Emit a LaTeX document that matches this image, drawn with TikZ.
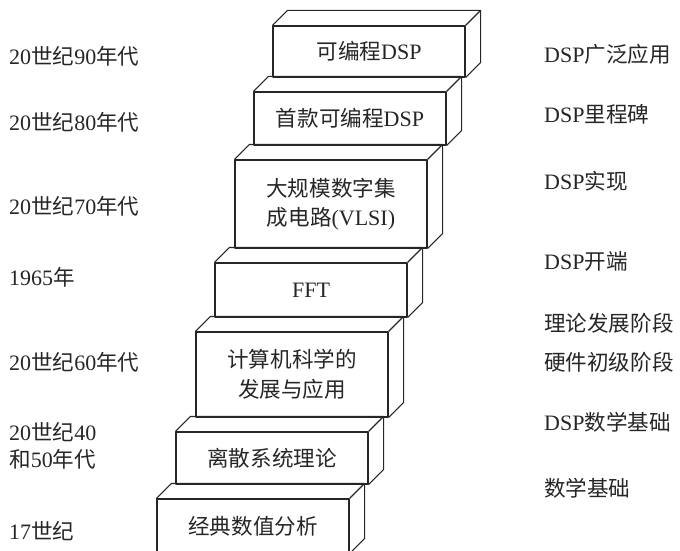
\documentclass[tikz,border=0pt]{standalone}
\usepackage{fontspec}
\usetikzlibrary{calc}
\setmainfont{Liberation Serif}
\newfontfamily\cjk{Noto Sans CJK SC}[Scale=0.98]
\begin{document}
\begin{tikzpicture}[x=1pt,y=-1pt,
  ink/.style={black!85, line width=1.1pt, line join=round},
  txt/.style={text=black!85, font=\fontsize{22}{30}\selectfont, inner sep=0pt},
  lab/.style={txt, anchor=west, align=left},
  front/.style={ink, draw, fill=white, minimum width=192pt, inner sep=0pt, align=center, text=black!85, font=\fontsize{22}{29.5}\selectfont}]
\useasboundingbox (0,0) rectangle (680,551);
\clip (0,0) rectangle (680,551);
\def\dd{15}
% boxes: front faces as nodes
\node[front, minimum height=51pt] (b1) at (369,51.5) {{\cjk 可编程}DSP};
\node[front, minimum height=53pt] (b2) at (350,118.5) {{\cjk 首款可编程}DSP};
\node[front, minimum height=88pt] (b3) at (331,204) {{\cjk 大规模数字集}\\{\cjk 成电路}(VLSI)};
\node[front, minimum height=54pt] (b4) at (311,290) {FFT};
\node[front, minimum height=85pt] (b5) at (292,374.5) {{\cjk 计算机科学的}\\{\cjk 发展与应用}};
\node[front, minimum height=52pt] (b6) at (272,458) {{\cjk 离散系统理论}};
\node[front, minimum height=54pt] (b7) at (253,526) {{\cjk 经典数值分析}};
% top and right faces
\foreach \b in {b1,b2,b3,b4,b5,b6,b7}{
  \draw[ink] (\b.north west) -- ++(\dd,-\dd) -- ($(\b.north east)+(\dd,-\dd)$) -- (\b.north east);
  \draw[ink] ($(\b.north east)+(\dd,-\dd)$) -- ($(\b.south east)+(\dd,-\dd)$) -- (\b.south east);
}
% left labels
\node[lab] (l1) at (9,56) {20{\cjk 世纪}90{\cjk 年代}};
\node[lab] (l2) at (9,122) {20{\cjk 世纪}80{\cjk 年代}};
\node[lab] (l3) at (9,206) {20{\cjk 世纪}70{\cjk 年代}};
\node[lab] (l4) at (9,277) {1965{\cjk 年}};
\node[lab] (l5) at (9,362.5) {20{\cjk 世纪}60{\cjk 年代}};
\node[lab, font=\fontsize{22}{27}\selectfont] (l6) at (9,445.5) {20{\cjk 世纪}40\\{\cjk 和}50{\cjk 年代}};
\node[lab] (l7) at (9,531) {17{\cjk 世纪}};
% right labels
\node[lab] (r1) at (544,54) {DSP{\cjk 广泛应用}};
\node[lab] (r2) at (544,114) {DSP{\cjk 里程碑}};
\node[lab] (r3) at (544,181) {DSP{\cjk 实现}};
\node[lab] (r4) at (544,261) {DSP{\cjk 开端}};
\node[lab, font=\fontsize{22}{39}\selectfont] (r5) at (544,342.5) {{\cjk 理论发展阶段}\\{\cjk 硬件初级阶段}};
\node[lab] (r6) at (544,422) {DSP{\cjk 数学基础}};
\node[lab] (r7) at (544,488) {{\cjk 数学基础}};
\end{tikzpicture}
\end{document}
